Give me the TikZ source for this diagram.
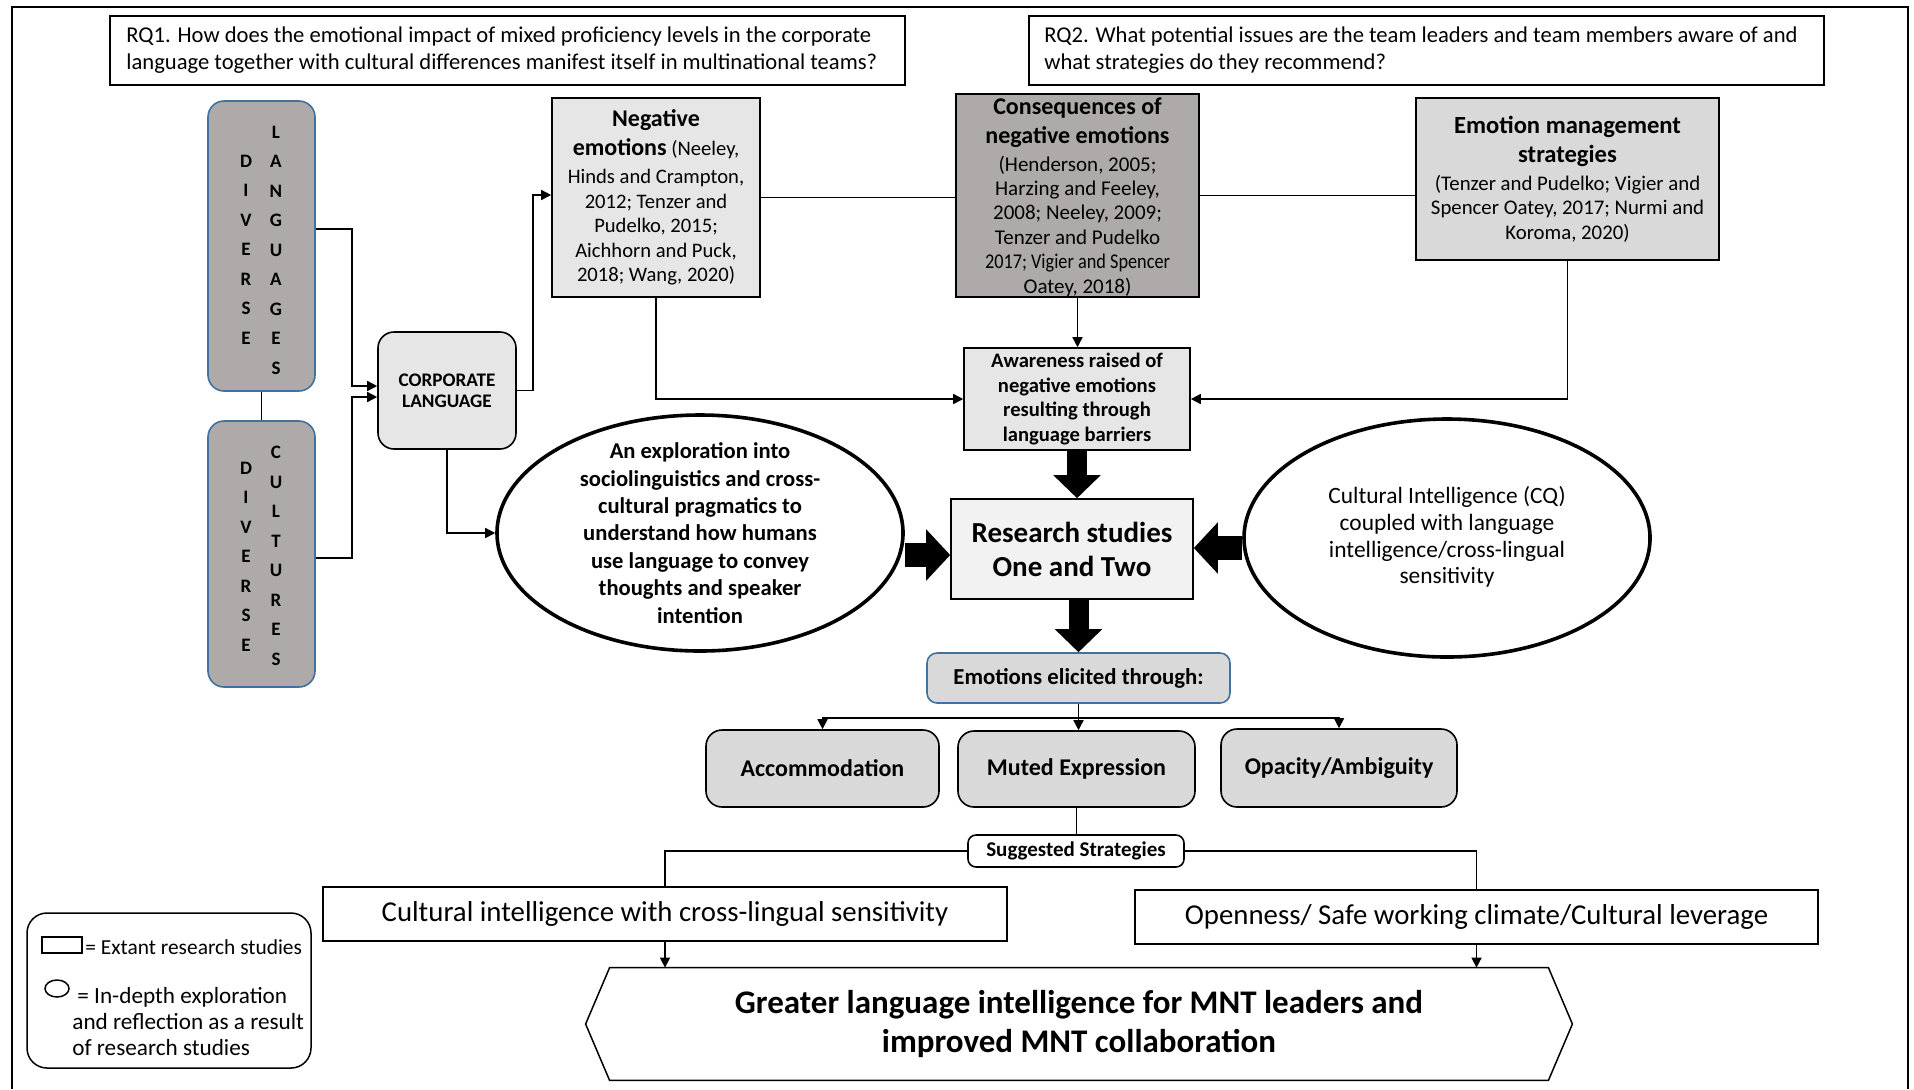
\documentclass[tikz,border=0pt]{standalone}
\usepackage{fontspec}
\setmainfont{Carlito}
\usetikzlibrary{arrows.meta,shapes.geometric}
\definecolor{dkgray}{HTML}{AEAAAA}
\definecolor{ltgray}{HTML}{E6E6E6}
\definecolor{mdgray}{HTML}{D9D9D9}
\definecolor{vlgray}{HTML}{F2F2F2}
\definecolor{bluebd}{HTML}{41719C}
\newcommand{\myfs}[2]{\fontsize{#1}{#2}\selectfont}
\begin{document}
\begin{tikzpicture}[x=0.5pt,y=-0.5pt,
  box/.style={draw, line width=0.8pt, align=center, inner sep=1pt},
  rbox/.style={box, rounded corners=8pt},
  ln/.style={line width=0.75pt},
  arr/.style={line width=0.75pt, -{Triangle[length=5pt,width=5pt]}},
  fatv/.style={line width=10pt, -{Triangle[length=11.5pt,width=23pt]}},
  fath/.style={line width=12pt, -{Triangle[length=12pt,width=25pt]}},
  ell/.style={draw, ellipse, line width=1.8pt, fill=white, inner sep=0pt},
  lett/.style={align=center, font=\myfs{9.5}{14.75}\bfseries, inner sep=0pt},
  txt/.style={align=center, inner sep=0pt},
]
\useasboundingbox (0,0) rectangle (1914,1089);
\draw[line width=1.1pt] (12,1089) -- (12,7) -- (1908,7) -- (1908,1089);

% research questions
\node[box, minimum width=397.5pt, minimum height=34.5pt] (rq1) at (507.5,50.5) {};
\node[anchor=west, align=left, inner sep=0pt, font=\myfs{11.3}{13.5}] (rq1T) at (126,50.5)
 {RQ1. How does the emotional impact of mixed proficiency levels in the corporate\\language together with cultural differences manifest itself in multinational teams?};
\node[box, minimum width=397.5pt, minimum height=34.5pt] (rq2) at (1426.5,50.5) {};
\node[anchor=west, align=left, inner sep=0pt, font=\myfs{11.3}{13.5}] (rq2T) at (1044,50.5)
 {RQ2. What potential issues are the team leaders and team members aware of and\\what strategies do they recommend?};

% diverse languages / cultures
\node[rbox, draw=bluebd, fill=dkgray, minimum width=53.5pt, minimum height=145pt] (dl) at (261.5,246) {};
\node[lett] (dlA) at (246,249.5) {D\\I\\V\\E\\R\\S\\E};
\node[lett] (dlB) at (276,250) {L\\A\\N\\G\\U\\A\\G\\E\\S};
\node[rbox, draw=bluebd, fill=dkgray, minimum width=53.5pt, minimum height=133pt] (dc) at (261.5,554) {};
\node[lett] (dcA) at (246,556.5) {D\\I\\V\\E\\R\\S\\E};
\node[lett] (dcB) at (276,556) {C\\U\\L\\T\\U\\R\\E\\S};

\node[rbox, fill=ltgray, minimum width=69pt, minimum height=58.5pt, font=\myfs{9.6}{10.3}\bfseries] (corp) at (447,390.5) {CORPORATE\\LANGUAGE};

% top literature boxes
\node[box, fill=ltgray, minimum width=104pt, minimum height=99.5pt, font=\myfs{10.3}{12.2}] (neg) at (656,197.5)
 {\textbf{\myfs{12}{14}Negative}\\[2.3pt]\textbf{\myfs{12}{14}emotions} (Neeley,\\[1.8pt]Hinds and Crampton,\\2012; Tenzer and\\Pudelko, 2015;\\Aichhorn and Puck,\\2018; Wang, 2020)};
\node[box, fill=dkgray, minimum width=121.5pt, minimum height=101.5pt] (cons) at (1077.5,195.5) {};
\node[txt, font=\myfs{10.5}{12.2}] (consT) at (1077.5,197)
 {\textbf{\myfs{12}{14}Consequences of}\\[2.3pt]\textbf{\myfs{12}{14}negative emotions}\\[1.8pt](Henderson, 2005;\\Harzing and Feeley,\\2008; Neeley, 2009;\\Tenzer and Pudelko\\\scalebox{0.87}[1]{2017; Vigier and Spencer}\\Oatey, 2018)};
\node[box, fill=mdgray, minimum width=151.5pt, minimum height=81pt, font=\myfs{10.4}{12.2}] (em) at (1567.5,179)
 {\textbf{\myfs{12.3}{14}Emotion management}\\[2.3pt]\textbf{\myfs{12.3}{14}strategies}\\[1.8pt](Tenzer and Pudelko; Vigier and\\Spencer Oatey, 2017; Nurmi and\\Koroma, 2020)};

\node[box, fill=ltgray, minimum width=113pt, minimum height=51pt, font=\myfs{10.3}{12.2}\bfseries] (aw) at (1077,399)
 {Awareness raised of\\negative emotions\\resulting through\\language barriers};

\node[box, fill=vlgray, minimum width=121pt, minimum height=50pt, font=\myfs{14.5}{17}\bfseries] (rs) at (1072,549)
 {Research studies\\One and Two};

% ellipses
\node[ell, minimum width=203pt, minimum height=118pt] (ellL) at (700,533) {};
\node[txt, font=\myfs{11.3}{13.7}\bfseries] (ellLT) at (700,533)
 {An exploration into\\sociolinguistics and cross-\\cultural pragmatics to\\understand how humans\\use language to convey\\thoughts and speaker\\intention};
\node[ell, minimum width=203pt, minimum height=119pt] (ellR) at (1447,538) {};
\node[txt, font=\myfs{11.7}{13.4}] (ellRT) at (1447,537)
 {Cultural Intelligence (CQ)\\coupled with language\\intelligence/cross-lingual\\sensitivity};

% emotions elicited
\node[rbox, rounded corners=5pt, draw=bluebd, fill=mdgray, minimum width=151.5pt, minimum height=25pt, font=\myfs{11.4}{13}\bfseries] (el) at (1078.5,678) {Emotions elicited through:};
\node[rbox, fill=mdgray, minimum width=116.5pt, minimum height=38.5pt, font=\myfs{12}{14}\bfseries] (acc) at (822.5,768.5) {Accommodation};
\node[rbox, fill=mdgray, minimum width=118.5pt, minimum height=38pt, font=\myfs{12}{14}\bfseries] (mut) at (1076.5,769) {Muted Expression};
\node[rbox, fill=mdgray, minimum width=118pt, minimum height=39pt, font=\myfs{12}{14}\bfseries] (opa) at (1339,768) {Opacity/Ambiguity};

\node[rbox, rounded corners=4pt, fill=white, minimum width=108pt, minimum height=16pt, inner sep=0.5pt, font=\myfs{10.5}{12}\bfseries] (ss) at (1076,851) {Suggested Strategies};
\node[box, fill=white, minimum width=342pt, minimum height=27pt, font=\myfs{14.4}{16}] (ci) at (665,914) {Cultural intelligence with cross-lingual sensitivity};
\node[box, fill=white, minimum width=341.5pt, minimum height=27pt, font=\myfs{14.4}{16}] (op) at (1476.5,917) {Openness/ Safe working climate/Cultural leverage};

\node[txt, minimum width=469pt, minimum height=56pt, font=\myfs{16.5}{19.5}\bfseries] (goal) at (1079,1024)
 {Greater language intelligence for MNT leaders and\\improved MNT collaboration};
\draw[line width=0.75pt] ([xshift=-12pt]goal.west) -- (goal.north west) -- (goal.north east)
  -- ([xshift=12pt]goal.east) -- (goal.south east) -- (goal.south west) -- cycle;

% legend
\node[draw, line width=0.75pt, rounded corners=10pt, minimum width=142pt, minimum height=77.5pt] (leg) at (169,990.5) {};
\node[draw, line width=0.75pt, minimum width=20pt, minimum height=8pt, inner sep=0pt] (legR) at (62,945) {};
\node[draw, ellipse, line width=0.75pt, minimum width=12pt, minimum height=8.5pt, inner sep=0pt] (legE) at (57,988.5) {};
\node[anchor=west, inner sep=0pt, font=\myfs{10.7}{13.2}] (legRT) at (85,947) {= Extant research studies};
\node[anchor=west, align=left, inner sep=0pt, font=\myfs{11.6}{13}] (legET) at (72,1022) {\hspace*{2.5pt}= In-depth exploration\\and reflection as a result\\of research studies};

% connectors
\draw[ln] (dl.south) -- (dc.north);
\draw[arr] ([yshift=8.5pt]dl.east) -| (352,386) -- ([yshift=2.25pt]corp.west);
\draw[arr] ([yshift=-2pt]dc.east) -| (352,397) -- ([yshift=-3.25pt]corp.west);
\draw[arr] (corp.east) -- (533,390.5) |- ([yshift=1.25pt]neg.west);
\draw[arr] (corp.south) |- (ellL.west);
\draw[ln] (neg.east) -- (neg.east -| cons.west);
\draw[ln] (cons.east) -- (cons.east -| em.west);
\draw[arr] (cons.south) -- (cons.south |- aw.north);
\draw[arr] (neg.south) |- (aw.west);
\draw[arr] (em.south) |- (aw.east);
\draw[fatv] (aw.south) -- (aw.south |- rs.north);
\draw[fath] ([yshift=-11pt]ellL.east) -- ([yshift=-11pt]ellL.east -| rs.west);
\draw[fath] ([yshift=-5pt]ellR.west) -- ([yshift=-5pt]ellR.west -| rs.east);
\draw[fatv] (el.north |- rs.south) -- (el.north);
\coordinate (fork) at (1078,718);
\draw[arr] (el.south) -- (el.south |- mut.north);
\draw[arr] (fork) -| (acc.north);
\draw[arr] (fork) -| (opa.north);
\draw[ln] (mut.south) -- (mut.south |- ss.north);
\draw[ln] (ss.west) -| (ci.north);
\draw[ln] (ss.east) -| (op.north);
\draw[arr] (ci.south) -- (ci.south |- goal.north);
\draw[arr] (op.south) -- (op.south |- goal.north);
\end{tikzpicture}
\end{document}
